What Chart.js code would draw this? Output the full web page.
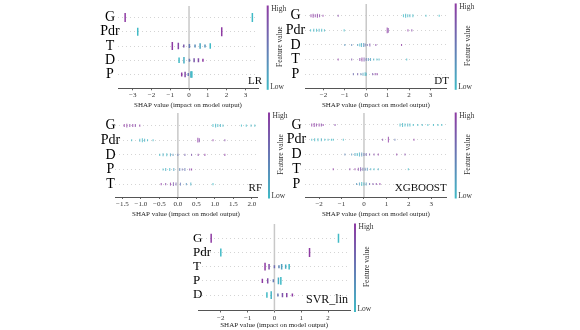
<!DOCTYPE html>
<html>
<head>
<meta charset="utf-8">
<script src="https://cdn.jsdelivr.net/npm/chart.js@4.4.0/dist/chart.umd.min.js"></script>
<style>
  html, body { margin: 0; padding: 0; background: #fff; }
  #figure { position: relative; width: 580px; height: 330px; overflow: hidden; background: #fff; }
  #figure canvas { position: absolute; }
</style>
</head>
<body>
<div id="figure">
  <canvas id="lrChart"></canvas>
  <canvas id="dtChart"></canvas>
  <canvas id="rfChart"></canvas>
  <canvas id="xgbChart"></canvas>
  <canvas id="svrChart"></canvas>
</div>
<script>
// each point: [shap value, feature value (0 = low, 1 = high), samples stacked at that value]
const lrFeatures = ["G", "Pdr", "T", "D", "P"];
const lrTicks = [-3, -2, -1, 0, 1, 2, 3];
const lrShap = {
  G:   [[-3.40, 1, 6], [3.37, 0, 6]],
  Pdr: [[-2.73, 0, 5], [1.74, 1, 6]],
  T:   [[-0.89, 1, 5], [-0.57, 0.9, 4], [-0.28, 0.75, 1], [0.02, 0.5, 2], [0.32, 0.35, 1], [0.59, 0.15, 3], [0.85, 0.3, 1], [1.13, 0, 3]],
  D:   [[-0.53, 0, 3], [-0.27, 0.1, 4], [0.02, 0.5, 1], [0.27, 0.75, 2], [0.50, 0.85, 2], [0.74, 1, 1]],
  P:   [[-0.39, 1, 2], [-0.21, 0.85, 3], [-0.04, 0.5, 1], [0.10, 0.1, 4], [0.15, 0, 4]]
};

const dtFeatures = ["G", "Pdr", "D", "T", "P"];
const dtTicks = [-2, -1, 0, 1, 2, 3];
const dtShap = {
  G:   [[-2.58, 1, 2], [-2.48, 1, 3], [-2.38, 0.95, 2], [-2.28, 1, 3], [-2.18, 0.9, 2], [-2.02, 1, 1], [-1.31, 0.9, 1],
        [1.74, 0, 2], [1.84, 0.05, 3], [1.94, 0, 2], [2.04, 0.1, 2], [2.18, 0, 2], [2.79, 0, 1], [3.41, 0, 1]],
  Pdr: [[-2.60, 0, 1], [-2.45, 0.05, 2], [-2.32, 0, 2], [-2.20, 0.1, 2], [-2.08, 0, 2], [-1.95, 0.05, 1], [-1.03, 0, 1],
        [0.98, 1, 5], [1.03, 0.9, 4], [1.95, 1, 1], [2.13, 0.9, 1]],
  D:   [[-1.00, 0.3, 1], [-0.68, 0.4, 1], [-0.40, 0.2, 1], [-0.30, 0, 2], [-0.22, 0.1, 3], [-0.12, 0.3, 3], [-0.05, 0.5, 2],
        [0.05, 0.6, 1], [0.17, 0.8, 2], [0.45, 0.9, 1], [1.65, 1, 1]],
  T:   [[-1.31, 1, 1], [-0.68, 0.8, 1], [-0.30, 0.9, 2], [-0.20, 1, 3], [-0.10, 0.8, 3], [0.00, 0.5, 2], [0.10, 0.3, 2],
        [0.20, 0.2, 2], [0.35, 0.1, 1], [0.50, 0, 1], [0.60, 0.1, 1], [1.89, 0, 1]],
  P:   [[-0.60, 0.6, 1], [-0.40, 0.7, 1], [-0.25, 0.4, 1], [-0.15, 0.2, 2], [-0.05, 0, 3], [0.00, 0.1, 2], [0.30, 0.8, 1],
        [0.42, 0.9, 1], [0.51, 1, 1]]
};

const rfFeatures = ["G", "Pdr", "D", "P", "T"];
const rfTicks = [-1.5, -1.0, -0.5, 0.0, 0.5, 1.0, 1.5, 2.0];
const rfShap = {
  G:   [[-1.45, 1, 2], [-1.38, 1, 3], [-1.30, 0.95, 2], [-1.22, 1, 2], [-1.15, 0.9, 2], [-1.03, 1, 1],
        [0.95, 0, 2], [1.02, 0.05, 3], [1.08, 0, 2], [1.15, 0.1, 2], [1.22, 0, 1], [1.72, 0, 1], [1.85, 0, 1], [1.98, 0.05, 1], [2.08, 0, 1]],
  Pdr: [[-1.25, 0, 1], [-1.03, 0.05, 2], [-0.96, 0, 3], [-0.90, 0.1, 2], [-0.82, 0, 1], [-0.67, 0.05, 1],
        [0.54, 1, 4], [0.58, 0.9, 3], [0.95, 1, 1], [1.27, 0.9, 1]],
  D:   [[-0.49, 0, 1], [-0.40, 0.1, 2], [-0.30, 0, 2], [-0.20, 0.2, 2], [-0.13, 0.3, 1], [0.00, 0.5, 1], [0.19, 0.7, 1],
        [0.37, 0.8, 1], [0.55, 0.9, 1], [0.73, 1, 1], [1.27, 1, 1]],
  P:   [[-0.40, 0, 1], [-0.33, 0.1, 2], [-0.22, 0, 2], [-0.11, 0.2, 2], [0.05, 0.4, 2], [0.12, 0.6, 1], [0.19, 0.5, 2],
        [0.32, 0.9, 1], [0.37, 1, 1]],
  T:   [[-0.45, 1, 1], [-0.33, 0.9, 1], [-0.20, 1, 2], [-0.12, 0.8, 3], [-0.05, 0.7, 2], [0.07, 0.5, 2], [0.23, 0.3, 1],
        [0.35, 0.1, 2], [0.95, 0, 1]]
};

const xgbFeatures = ["G", "Pdr", "D", "T", "P"];
const xgbTicks = [-2, -1, 0, 1, 2, 3];
const xgbShap = {
  G:   [[-2.33, 1, 2], [-2.22, 1, 3], [-2.12, 0.95, 2], [-2.00, 1, 2], [-1.90, 0.9, 2], [-1.82, 1, 1], [-1.29, 0.9, 1],
        [1.61, 0, 2], [1.72, 0.05, 3], [1.83, 0, 2], [1.95, 0.1, 2], [2.05, 0, 2], [2.20, 0, 1],
        [2.40, 0, 1], [2.60, 0.05, 1], [2.85, 0, 1], [3.10, 0, 1], [3.30, 0, 1], [3.47, 0, 1]],
  Pdr: [[-2.33, 0, 1], [-2.20, 0.05, 2], [-2.05, 0, 2], [-1.90, 0.1, 2], [-1.75, 0, 1], [-1.60, 0.05, 1], [-1.45, 0, 1],
        [-1.37, 0, 1], [-0.92, 0, 1], [0.83, 0.9, 1], [1.09, 1, 5], [1.38, 0.5, 1], [2.23, 1, 1]],
  D:   [[-0.85, 0.4, 1], [-0.55, 0.3, 1], [-0.40, 0.2, 2], [-0.30, 0, 2], [-0.20, 0.1, 3], [-0.10, 0.3, 3], [0.00, 0.5, 2],
        [0.10, 0.7, 2], [0.25, 0.8, 1], [0.45, 0.9, 1], [0.64, 1, 1], [1.46, 1, 1], [1.83, 0.9, 1]],
  T:   [[-1.37, 1, 1], [-0.63, 0.9, 1], [-0.40, 1, 1], [-0.25, 0.9, 2], [-0.15, 0.8, 3], [-0.05, 0.6, 2], [0.05, 0.4, 2],
        [0.15, 0.3, 2], [0.30, 0.1, 1], [0.45, 0, 1], [0.64, 0.1, 1], [1.98, 0, 1]],
  P:   [[-0.33, 0.3, 1], [-0.20, 0.2, 2], [-0.10, 0, 3], [0.00, 0.1, 2], [0.10, 0.3, 2], [0.25, 0.6, 1], [0.40, 0.8, 1],
        [0.55, 0.9, 1], [0.71, 1, 1]]
};

const svrFeatures = ["G", "Pdr", "T", "P", "D"];
const svrTicks = [-2, -1, 0, 1, 2];
const svrShap = {
  G:   [[-2.36, 1, 6], [2.39, 0, 6]],
  Pdr: [[-2.00, 0, 5], [1.31, 1, 6]],
  T:   [[-0.35, 1, 5], [-0.20, 0.85, 3], [0.00, 0.6, 1], [0.17, 0.4, 1], [0.27, 0.2, 3], [0.42, 0.1, 2], [0.55, 0, 3]],
  P:   [[-0.45, 1, 2], [-0.25, 0.85, 3], [-0.04, 0.5, 1], [0.15, 0.1, 4], [0.24, 0, 5]],
  D:   [[-0.28, 0, 3], [-0.12, 0.05, 5], [0.13, 0.5, 1], [0.30, 0.8, 2], [0.46, 0.9, 2], [0.67, 1, 1]]
};

const SERIF = "'Liberation Serif', 'DejaVu Serif', serif";
const LOW = [64, 186, 198];
const HIGH = [142, 58, 163];

function featureColor(v, alpha) {
  const c = LOW.map((l, i) => Math.round(l + (HIGH[i] - l) * v));
  return `rgba(${c[0]}, ${c[1]}, ${c[2]}, ${alpha === undefined ? 1 : alpha})`;
}

function fmtTick(v, d) {
  const s = Math.abs(v).toFixed(d);
  return v < 0 ? "\u2212" + s : s;
}

// layout of each panel on the page: box = [left, top, width, height], plot = [left, right, top, bottom]
const panels = [
  { id: "lrChart", name: "LR", features: lrFeatures, shap: lrShap, ticks: lrTicks, decimals: 0,
    xMin: -3.78, xMax: 3.67, yMin: -0.97, yMax: 4.81,
    box: [88, 0, 212, 109], plot: [118, 258, 3, 88.3], labelX: 110, labelAlign: "center", labelSize: 14,
    dot: [0.9, 0.6, 1.5, 1], barGap: 9.7, nameDx: 4, nameDy: -7.3, nameSize: 11 },
  { id: "dtChart", name: "DT", features: dtFeatures, shap: dtShap, ticks: dtTicks, decimals: 0,
    xMin: -2.86, xMax: 3.76, yMin: -0.97, yMax: 4.81,
    box: [275, 0, 212, 109], plot: [305, 446.7, 3, 88.3], labelX: 295.5, labelAlign: "center", labelSize: 14,
    dot: [0.6, 0.45, 1.1, 0.75], barGap: 9, nameDx: 2.3, nameDy: -7.5, nameSize: 11 },
  { id: "rfChart", name: "RF", features: rfFeatures, shap: rfShap, ticks: rfTicks, decimals: 1,
    xMin: -1.70, xMax: 2.14, yMin: -0.88, yMax: 4.86,
    box: [85, 109, 212, 109], plot: [115, 257, 113, 197], labelX: 110.5, labelAlign: "center", labelSize: 14,
    dot: [0.6, 0.45, 1.1, 0.75], barGap: 12, nameDx: 5, nameDy: -8.5, nameSize: 11 },
  { id: "xgbChart", name: "XGBOOST", features: xgbFeatures, shap: xgbShap, ticks: xgbTicks, decimals: 0,
    xMin: -2.63, xMax: 3.69, yMin: -0.88, yMax: 4.81,
    box: [275, 109, 212, 109], plot: [305, 446.7, 113, 197], labelX: 296.5, labelAlign: "center", labelSize: 14,
    dot: [0.6, 0.45, 1.1, 0.75], barGap: 9, nameDx: 0, nameDy: -8.5, nameSize: 11 },
  { id: "svrChart", name: "SVR_lin", features: svrFeatures, shap: svrShap, ticks: svrTicks, decimals: 0,
    xMin: -2.84, xMax: 2.82, yMin: -1.09, yMax: 5.01,
    box: [190, 218, 210, 111], plot: [198.3, 350, 224, 310.5], labelX: 193, labelAlign: "near", labelSize: 13,
    dot: [0.9, 0.6, 1.5, 1], barGap: 5, nameDx: -2, nameDy: -10.5, nameSize: 12 }
];

function panelPlugin(p) {
  return {
    id: "shapPanel_" + p.id,
    beforeDatasetsDraw(chart) {
      // grey zero line behind the points
      const { ctx, chartArea } = chart;
      const x0 = chart.scales.x.getPixelForValue(0);
      ctx.save();
      ctx.strokeStyle = "#c8c8c8";
      ctx.lineWidth = 1.5;
      ctx.beginPath();
      ctx.moveTo(x0, chartArea.top);
      ctx.lineTo(x0, chartArea.bottom);
      ctx.stroke();
      ctx.restore();
    },
    afterDraw(chart) {
      const { ctx, chartArea } = chart;
      const cx = chartArea.right + p.barGap;
      const top = chartArea.top - 0.5;
      const bottom = chartArea.bottom + 1.5;
      ctx.save();
      // colour bar
      const grad = ctx.createLinearGradient(0, top, 0, bottom);
      grad.addColorStop(0, featureColor(1));
      grad.addColorStop(1, featureColor(0));
      ctx.fillStyle = grad;
      ctx.fillRect(cx - 1, top, 2, bottom - top);
      ctx.fillStyle = "#333";
      ctx.font = "7.5px " + SERIF;
      ctx.textAlign = "left";
      ctx.textBaseline = "middle";
      ctx.fillText("High", cx + 3.5, top + 3.5);
      ctx.fillText("Low", cx + 2.5, bottom - 2.5);
      ctx.translate(cx + 12, (top + bottom) / 2 - 1);
      ctx.rotate(-Math.PI / 2);
      ctx.textAlign = "center";
      ctx.fillText("Feature value", 0, 0);
      ctx.restore();
      // model name
      ctx.save();
      ctx.fillStyle = "#111";
      ctx.font = p.nameSize + "px " + SERIF;
      ctx.textAlign = "right";
      ctx.textBaseline = "middle";
      ctx.fillText(p.name, chartArea.right + p.nameDx, chartArea.bottom + p.nameDy);
      ctx.restore();
    }
  };
}

function buildPanel(p) {
  const canvas = document.getElementById(p.id);
  const [bx, by, bw, bh] = p.box;
  const [pl, pr, pt, pb] = p.plot;
  canvas.width = bw;
  canvas.height = bh;
  canvas.style.left = bx + "px";
  canvas.style.top = by + "px";

  const n = p.features.length;
  const points = [];
  p.features.forEach((f, i) => {
    p.shap[f].forEach(([x, v, c]) => points.push({ x: x, y: n - 1 - i, v: v, c: c }));
  });

  // mirrored labels are not clipped to the axis box, so they may overlap the plot like the original
  const mctx = canvas.getContext("2d");
  mctx.font = p.labelSize + "px " + SERIF;
  const widest = Math.max(...p.features.map((f) => mctx.measureText(f).width));
  const labelPad = p.labelAlign === "center" ? p.labelX - pl - widest / 2 : p.labelX - pl;

  const [r0, r1, bw1, alpha] = p.dot;
  const radius = (ctx) => (ctx.raw ? r0 + r1 * ctx.raw.c : 1.5);
  const color = (ctx) => (ctx.raw ? featureColor(ctx.raw.v, alpha) : "#888");

  new Chart(canvas, {
    type: "scatter",
    data: {
      datasets: [{
        data: points,
        pointStyle: "line",
        pointRotation: 90,
        pointRadius: radius,
        pointHoverRadius: radius,
        pointBorderWidth: bw1,
        pointBorderColor: color,
        pointBackgroundColor: color
      }]
    },
    options: {
      responsive: false,
      animation: false,
      devicePixelRatio: 1,
      events: [],
      layout: { padding: { left: 0, top: pt - by, right: bx + bw - pr, bottom: 0 } },
      plugins: { legend: { display: false }, tooltip: { enabled: false } },
      scales: {
        x: {
          type: "linear",
          min: p.xMin,
          max: p.xMax,
          afterBuildTicks: (s) => { s.ticks = p.ticks.map((value) => ({ value })); },
          afterFit: (s) => { s.height = by + bh - pb; },
          grid: { drawOnChartArea: false, drawTicks: true, tickLength: 2, color: "#666" },
          border: { display: true, color: "#555", width: 1 },
          ticks: {
            padding: 1, autoSkip: false, maxRotation: 0, color: "#333",
            font: { family: SERIF, size: 7 },
            callback: (v) => fmtTick(v, p.decimals)
          },
          title: {
            display: true, text: "SHAP value (impact on model output)", color: "#222",
            font: { family: SERIF, size: 7 }, padding: 0
          }
        },
        y: {
          type: "linear",
          min: p.yMin,
          max: p.yMax,
          afterBuildTicks: (s) => { s.ticks = p.features.map((f, i) => ({ value: i })); },
          afterFit: (s) => { s.width = pl - bx; },
          grid: { drawTicks: false, color: "#d4d4d4", lineWidth: 1 },
          border: { display: false, dash: [1, 3] },
          ticks: {
            mirror: true, padding: labelPad, crossAlign: p.labelAlign, color: "#000",
            font: { family: SERIF, size: p.labelSize },
            callback: (v) => p.features[n - 1 - v]
          }
        }
      }
    },
    plugins: [panelPlugin(p)]
  });
}

panels.forEach(buildPanel);
</script>
</body>
</html>
